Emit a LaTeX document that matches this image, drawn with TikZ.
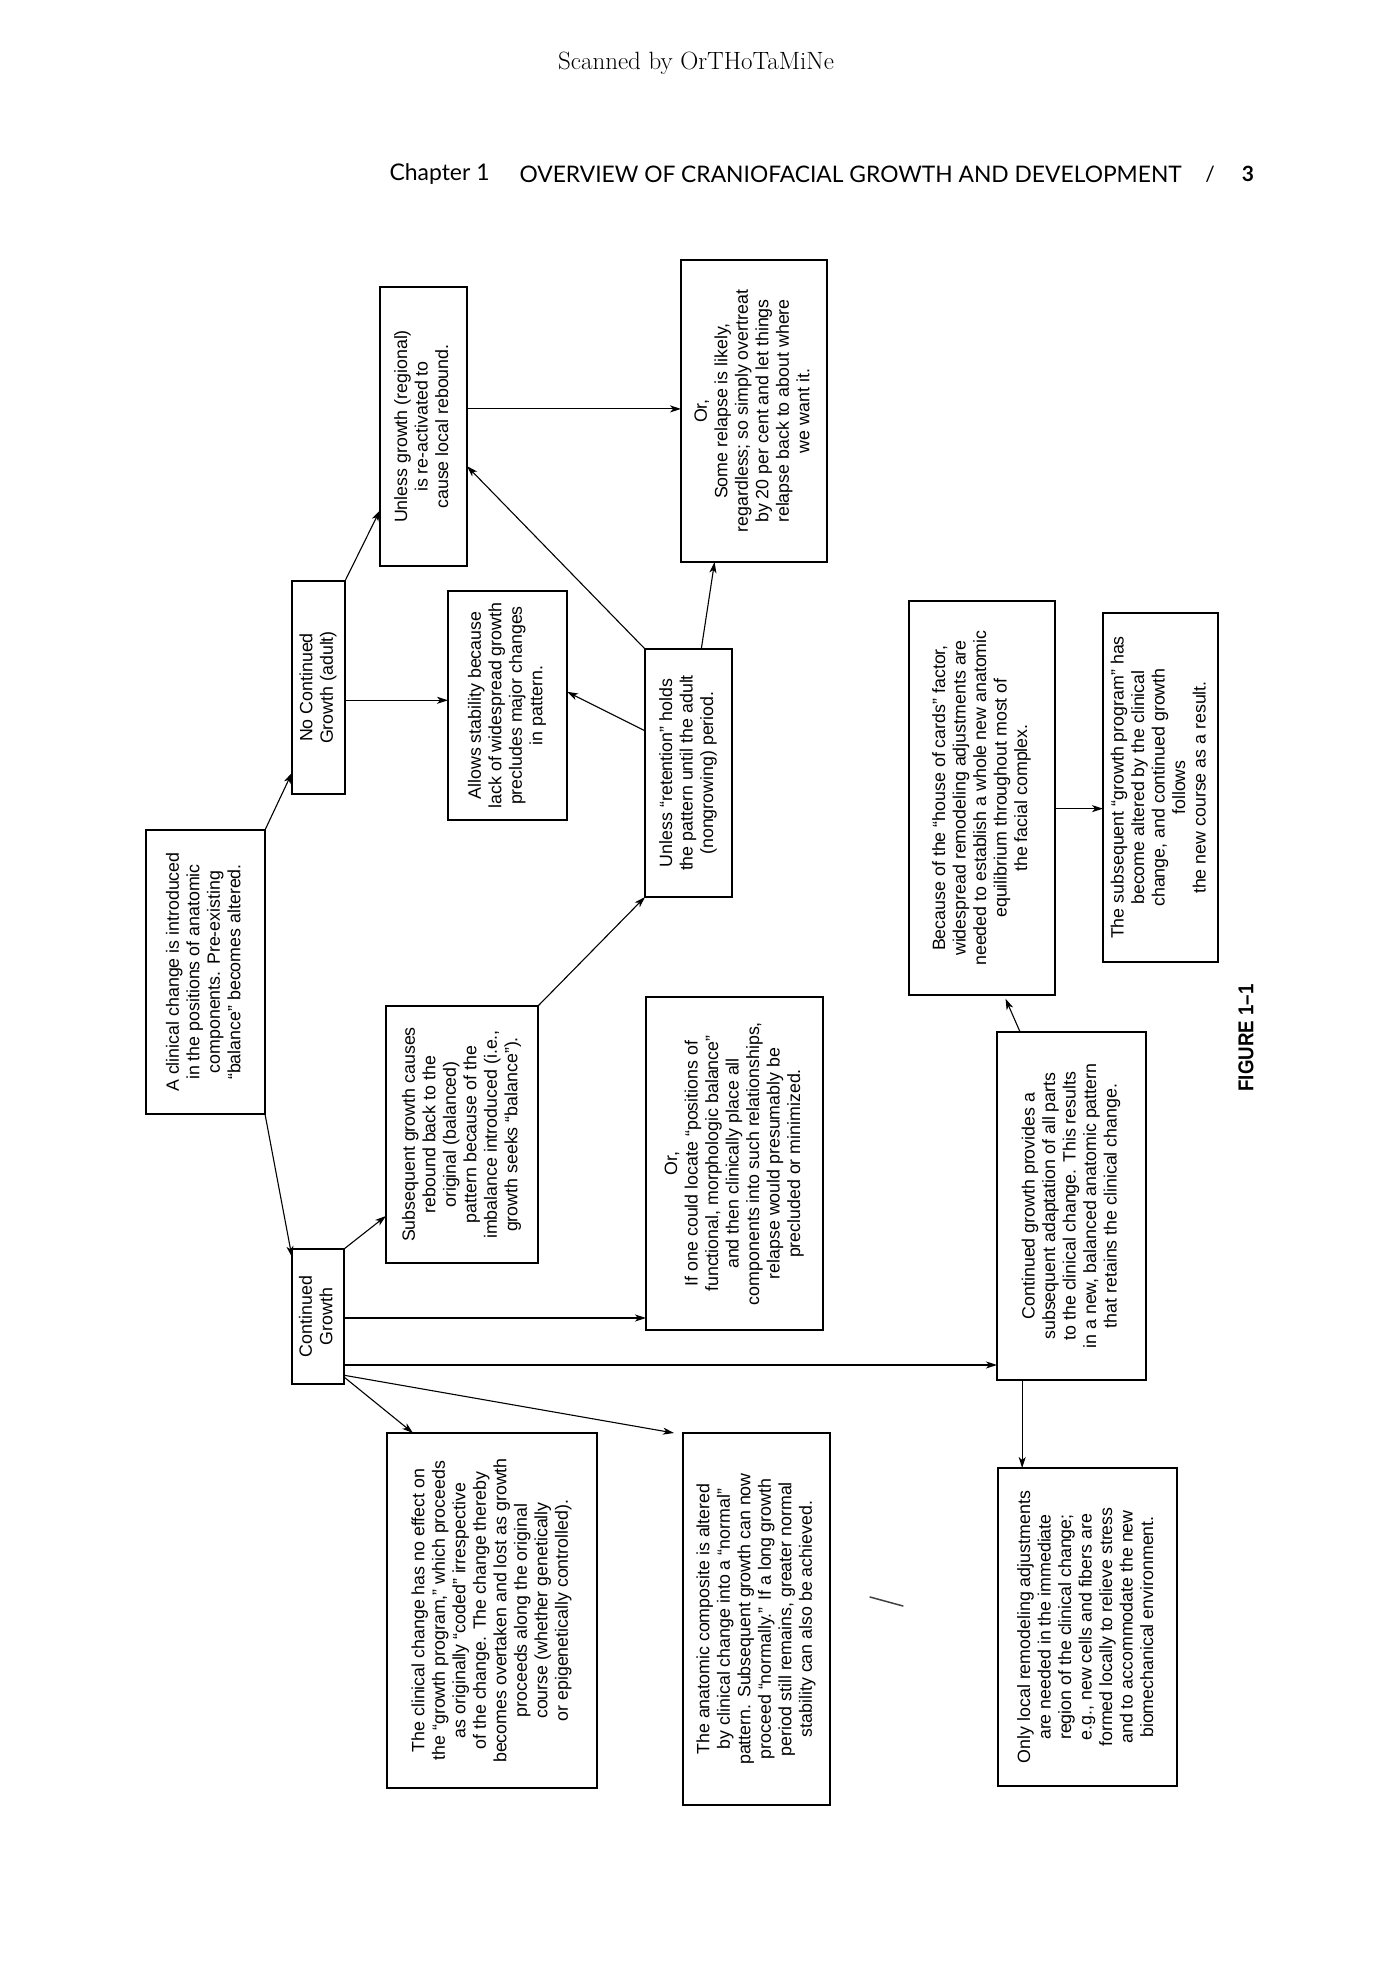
\documentclass[tikz,border=0pt]{standalone}
\usepackage{fontspec}
\usepackage{graphicx}
\newfontfamily\arialf{Liberation Sans}
\newfontfamily\headf{Lato}
\usetikzlibrary{arrows.meta,calc}
\newcommand\rtext[1]{\rotatebox{90}{\arialf\fontsize{17.8}{20.5}\selectfont\begin{tabular}{@{}c@{}}#1\end{tabular}}}
\newcommand\bx[6]{\node[box, minimum width={(#4-#2)*1pt}, minimum height={(#5-#3)*1pt}] (#1) at (#2,#3) {\rtext{#6}};}
\begin{document}
\begin{tikzpicture}[x=1pt,y=-1pt,
  box/.style={draw, line width=1.3pt, inner sep=0pt, outer sep=0pt, anchor=north west},
  arr/.style={-{Stealth[length=11pt,width=7pt,inset=3pt]}, line width=1.1pt}]
\useasboundingbox[fill=white] (0,0) rectangle (1391,1968);
% headers
\node (scan) at (696,63) {\fontsize{25}{28}\selectfont Scanned by OrTHoTaMiNe};
\node[anchor=west] (chap) at (386,174) {\resizebox{100pt}{!}{\headf\fontsize{20}{24}\selectfont Chapter 1}};
\node[anchor=west] (ovw) at (516,174) {\resizebox{662pt}{!}{\headf\fontsize{20}{24}\selectfont OVERVIEW OF CRANIOFACIAL GROWTH AND DEVELOPMENT}};
\node (slash) at (1210,174) {\headf\fontsize{21}{24}\selectfont /};
\node (pnum) at (1248,174) {\headf\bfseries\fontsize{21}{24}\selectfont 3};
% boxes
\bx{n1}{146}{830}{265}{1114}{A clinical change is introduced\\in the positions of anatomic\\components. Pre-existing\\“balance” becomes altered.}
\bx{n2}{292}{581}{345}{794}{No Continued\\Growth (adult)}
\bx{n3}{292}{1249}{344}{1384}{Continued\\Growth}
\bx{n4}{380}{287}{467}{566}{Unless growth (regional)\\is re-activated to\\cause local rebound.}
\bx{n5}{448}{591}{567}{820}{Allows stability because\\lack of widespread growth\\precludes major changes\\in pattern.}
\bx{n6}{386}{1006}{538}{1263}{Subsequent growth causes\\rebound back to the\\original (balanced)\\pattern because of the\\imbalance introduced (i.e.,\\growth seeks “balance”).}
\bx{n7}{645}{649}{732}{897}{Unless “retention” holds\\the pattern until the adult\\(nongrowing) period.}
\bx{n8}{681}{260}{827}{562}{Or,\\Some relapse is likely,\\regardless; so simply overtreat\\by 20 per cent and let things\\relapse back to about where\\we want it.}
\bx{n9}{646}{997}{823}{1330}{Or,\\If one could locate “positions of\\functional, morphologic balance”\\and then clinically place all\\components into such relationships,\\relapse would presumably be\\precluded or minimized.}
\bx{n10}{909}{601}{1055}{995}{Because of the “house of cards” factor,\\widespread remodeling adjustments are\\needed to establish a whole new anatomic\\equilibrium throughout most of\\the facial complex.}
\bx{n11}{1103}{613}{1218}{962}{The subsequent “growth program” has\\become altered by the clinical\\change, and continued growth\\follows\\the new course as a result.}
\bx{n12}{997}{1032}{1146}{1380}{Continued growth provides a\\subsequent adaptation of all parts\\to the clinical change. This results\\in a new, balanced anatomic pattern\\that retains the clinical change.}
\bx{n13}{387}{1433}{597}{1788}{The clinical change has no effect on\\the “growth program,” which proceeds\\as originally “coded” irrespective\\of the change. The change thereby\\becomes overtaken and lost as growth\\proceeds along the original\\course (whether genetically\\or epigenetically controlled).}
\bx{n14}{683}{1433}{830}{1805}{The anatomic composite is altered\\by clinical change into a “normal”\\pattern. Subsequent growth can now\\proceed “normally.” If a long growth\\period still remains, greater normal\\stability can also be achieved.}
\bx{n15}{998}{1468}{1177}{1786}{Only local remodeling adjustments\\are needed in the immediate\\region of the clinical change;\\e.g., new cells and fibers are\\formed locally to relieve stress\\and to accommodate the new\\biomechanical environment.}
% figure label
\node (fig) at (1246,1038) {\rotatebox{90}{\resizebox{107pt}{15pt}{\arialf\bfseries FIGURE 1–1}}};
% connectors
\draw[arr] (n1.north east) -- ($(n2.north west)!0.90!(n2.south west)$);
\draw[arr] (n1.south east) -- ($(n3.north west)!0.06!(n3.south west)$);
\draw[arr] (n2.north east) -- ($(n4.north west)!0.80!(n4.south west)$);
\coordinate (a4s) at ($(n2.north east)!0.56!(n2.south east)$);
\draw[arr] (a4s) -- (a4s -| n5.west);
\coordinate (a5s) at ($(n4.north east)!0.437!(n4.south east)$);
\draw[arr] (a5s) -- (a5s -| n8.west);
\draw[arr] (n7.north west) -- ($(n4.north east)!0.642!(n4.south east)$);
\draw[arr] ($(n7.north west)!0.33!(n7.south west)$) -- ($(n5.north east)!0.44!(n5.south east)$);
\draw[arr] ($(n7.north west)!0.647!(n7.north east)$) -- ($(n8.south west)!0.23!(n8.south east)$);
\draw[arr] (n6.north east) -- (n7.south west);
\draw[arr] (n3.north east) -- ($(n6.north west)!0.817!(n6.south west)$);
\coordinate (a11s) at ($(n3.north east)!0.511!(n3.south east)$);
\draw[arr] (a11s) -- (a11s -| n9.west);
\coordinate (a12s) at ($(n3.north east)!0.859!(n3.south east)$);
\draw[arr] (a12s) -- (a12s -| n12.west);
\draw[arr] ($(n3.north east)!0.948!(n3.south east)$) -- ($(n13.north west)!0.124!(n13.north east)$);
\draw[arr] ($(n3.north east)!0.935!(n3.south east)$) -- ([xshift=-9pt]n14.north west);
\coordinate (a15s) at ($(n12.south west)!0.169!(n12.south east)$);
\draw[arr] (a15s) -- (a15s |- n15.north);
\coordinate (a16s) at ($(n10.north east)!0.527!(n10.south east)$);
\draw[arr] (a16s) -- (a16s -| n11.west);
\draw[arr, shorten >=4pt] ($(n12.north west)!0.155!(n12.north east)$) -- ($(n10.south west)!0.65!(n10.south east)$);
% stray scan mark
\coordinate (m1) at (870,1597);
\coordinate (m2) at (903,1606);
\draw[line width=1.5pt, black!75, line cap=round] (m1) -- (m2);
\end{tikzpicture}
\end{document}
